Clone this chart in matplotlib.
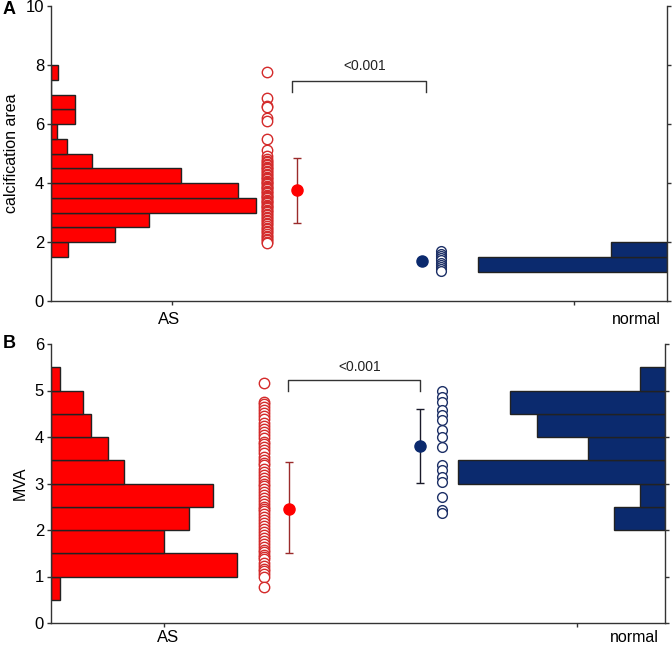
import numpy as np
import matplotlib
matplotlib.use("Agg")
import matplotlib.pyplot as plt

plt.rcParams['font.family'] = ['Liberation Sans', 'DejaVu Sans']

# Panel A: calcification area
# histogram bins are 0.5 wide, lengths read off the picture (% of panel width)
a_red_bins = [1.5, 2.0, 2.5, 3.0, 3.5, 4.0, 4.5, 5.0, 5.5, 6.0, 6.5, 7.0, 7.5]
a_red_hist = [2.8, 10.4, 15.9, 33.3, 30.4, 21.1, 6.7, 2.6, 1.0, 3.9, 3.9, 0, 1.1]
a_blue_bins = [1.0, 1.5]
a_blue_hist = [30.7, 9.1]
a_red_pts = [7.75, 6.88, 6.62, 6.57, 6.19, 6.10, 5.48, 5.12, 4.90, 4.80,
             4.74, 4.70, 4.65, 4.60, 4.55, 4.50, 4.46, 4.41, 4.36, 4.31,
             4.27, 4.22, 4.18, 4.13, 4.08, 4.04, 4.00, 3.95, 3.91, 3.86,
             3.82, 3.78, 3.74, 3.69, 3.65, 3.61, 3.56, 3.52, 3.48, 3.44,
             3.39, 3.35, 3.31, 3.27, 3.22, 3.18, 3.14, 3.09, 3.05, 3.01,
             2.96, 2.91, 2.86, 2.81, 2.76, 2.71, 2.65, 2.60, 2.54, 2.49,
             2.44, 2.38, 2.33, 2.27, 2.22, 2.16, 2.11, 2.06, 2.01, 1.96]
a_blue_pts = [1.68, 1.60, 1.52, 1.45, 1.38, 1.30, 1.22, 1.15, 1.08, 1.03]
a_red_mean, a_red_err = 3.75, 1.1
a_blue_mean = 1.37

# Panel B: MVA
b_red_bins = [0.5, 1.0, 1.5, 2.0, 2.5, 3.0, 3.5, 4.0, 4.5, 5.0]
b_red_hist = [1.5, 30.3, 18.4, 22.5, 26.4, 11.9, 9.3, 6.5, 5.2, 1.5]
b_blue_bins = [2.0, 2.5, 3.0, 3.5, 4.0, 4.5, 5.0]
b_blue_hist = [8.3, 4.1, 33.7, 12.5, 20.8, 25.2, 4.1]
b_red_pts = [5.16, 4.75, 4.70, 4.64, 4.58, 4.52, 4.45, 4.38, 4.30, 4.24,
             4.17, 4.10, 4.04, 3.97, 3.90, 3.84, 3.79, 3.72, 3.65, 3.58,
             3.51, 3.45, 3.39, 3.32, 3.25, 3.19, 3.12, 3.06, 3.00, 2.94,
             2.88, 2.81, 2.75, 2.69, 2.62, 2.56, 2.50, 2.45, 2.40, 2.34,
             2.27, 2.21, 2.15, 2.09, 2.02, 1.96, 1.90, 1.83, 1.76, 1.70,
             1.64, 1.57, 1.52, 1.47, 1.42, 1.37, 1.30, 1.23, 1.16, 1.11,
             1.06, 0.99, 0.78]
b_blue_pts = [4.98, 4.87, 4.76, 4.58, 4.48, 4.37, 4.15, 4.01, 3.79,
              3.40, 3.29, 3.15, 3.04, 2.72, 2.43, 2.36]
b_red_mean, b_red_lo, b_red_hi = 2.45, 1.51, 3.47
b_blue_mean, b_blue_lo, b_blue_hi = 3.80, 3.02, 4.61

groups = ['AS', 'normal']
p_text = '<0.001'

RED = '#ff0000'
NAVY = '#0b2a6e'
AX = '#333333'

fig = plt.figure(figsize=(6.72, 6.46), dpi=100)
axA = fig.add_axes([51 / 672, 1 - 301 / 646, 616 / 672, 295 / 646])
axB = fig.add_axes([51 / 672, 1 - 623 / 646, 614 / 672, 279 / 646])


def style(ax, ymax, ystep, xt):
    ax.set_xlim(0, 100)
    ax.set_ylim(0, ymax)
    ax.spines['top'].set_visible(False)
    for s in ['left', 'right', 'bottom']:
        ax.spines[s].set_color(AX)
        ax.spines[s].set_linewidth(1.0)
    ax.set_yticks(np.arange(0, ymax + 0.01, ystep))
    ax.tick_params(axis='y', direction='out', length=3, width=1, color=AX,
                   right=True, labelright=False, labelsize=12, pad=2)
    ax.set_xticks(xt)
    ax.set_xticklabels(['', ''])
    ax.tick_params(axis='x', direction='out', length=3, width=1, color=AX)


def panel(ax, red_bins, red_hist, blue_bins, blue_hist, red_pts, blue_pts,
          xs, red_mean, red_lo, red_hi, blue_mean, blue_lo, blue_hi, br, ylab):
    ax.barh(red_bins, red_hist, height=0.5, align='edge', left=0,
            color=RED, edgecolor='#222222', linewidth=1.0, zorder=2)
    ax.barh(blue_bins, blue_hist, height=0.5, align='edge',
            left=100 - np.array(blue_hist), color=NAVY,
            edgecolor='#222222', linewidth=1.0, zorder=2)
    ax.plot([xs['rp']] * len(red_pts), red_pts, 'o', ms=7.5, mfc='white',
            mec='#d42a2a', mew=1.0, zorder=3)
    ax.plot([xs['bp']] * len(blue_pts), blue_pts, 'o', ms=7, mfc='white',
            mec='#1c2f66', mew=1.0, zorder=3)
    ax.errorbar(xs['rm'], red_mean,
                yerr=[[red_mean - red_lo], [red_hi - red_mean]],
                fmt='o', ms=8, color=RED, ecolor='#9b2b2b', elinewidth=1,
                capsize=3, capthick=1, zorder=4)
    if blue_lo is not None:
        ax.errorbar(xs['bm'], blue_mean,
                    yerr=[[blue_mean - blue_lo], [blue_hi - blue_mean]],
                    fmt='o', ms=8, color=NAVY, ecolor='#1a1a2a', elinewidth=1,
                    capsize=3, capthick=1, zorder=4)
    else:
        ax.plot(xs['bm'], blue_mean, 'o', ms=8, color=NAVY, zorder=4)
    x0, x1, ytop, ybot, ytxt = br
    ax.plot([x0, x0, x1, x1], [ybot, ytop, ytop, ybot], color=AX, lw=1.0)
    ax.text((x0 + x1) / 2 + 1, ytxt, p_text, ha='center', va='center',
            fontsize=10, color='#222222')
    ax.text(xs['asl'], ylab, groups[0], transform=ax.get_xaxis_transform(),
            ha='center', va='center', fontsize=12)
    ax.text(xs['nl'], ylab, groups[1], transform=ax.get_xaxis_transform(),
            ha='center', va='center', fontsize=11.5)


style(axA, 10, 2, [19.6, 84.9])
panel(axA, a_red_bins, a_red_hist, a_blue_bins, a_blue_hist, a_red_pts,
      a_blue_pts,
      dict(rp=35.0, bp=63.3, rm=39.9, bm=60.2, asl=19.2, nl=95.0),
      a_red_mean, a_red_mean - a_red_err, a_red_mean + a_red_err,
      a_blue_mean, None, None, (39.2, 60.8, 7.47, 7.1, 7.97), -0.062)
axA.set_ylabel('calcification area', fontsize=11.5, labelpad=5)

style(axB, 6, 1, [18.4, 85.7])
panel(axB, b_red_bins, b_red_hist, b_blue_bins, b_blue_hist, b_red_pts,
      b_blue_pts,
      dict(rp=34.7, bp=63.7, rm=38.8, bm=60.1, asl=19.0, nl=95.0),
      b_red_mean, b_red_lo, b_red_hi,
      b_blue_mean, b_blue_lo, b_blue_hi, (38.6, 60.1, 5.22, 4.98, 5.5),
      -0.052)
axB.set_ylabel('MVA', fontsize=11.5, labelpad=5)

fig.text(9 / 672, 1 - 10 / 646, 'A', fontsize=13, fontweight='bold',
         ha='center', va='center')
fig.text(9 / 672, 1 - 343 / 646, 'B', fontsize=13, fontweight='bold',
         ha='center', va='center')

fig.savefig('out.png', dpi=100)
